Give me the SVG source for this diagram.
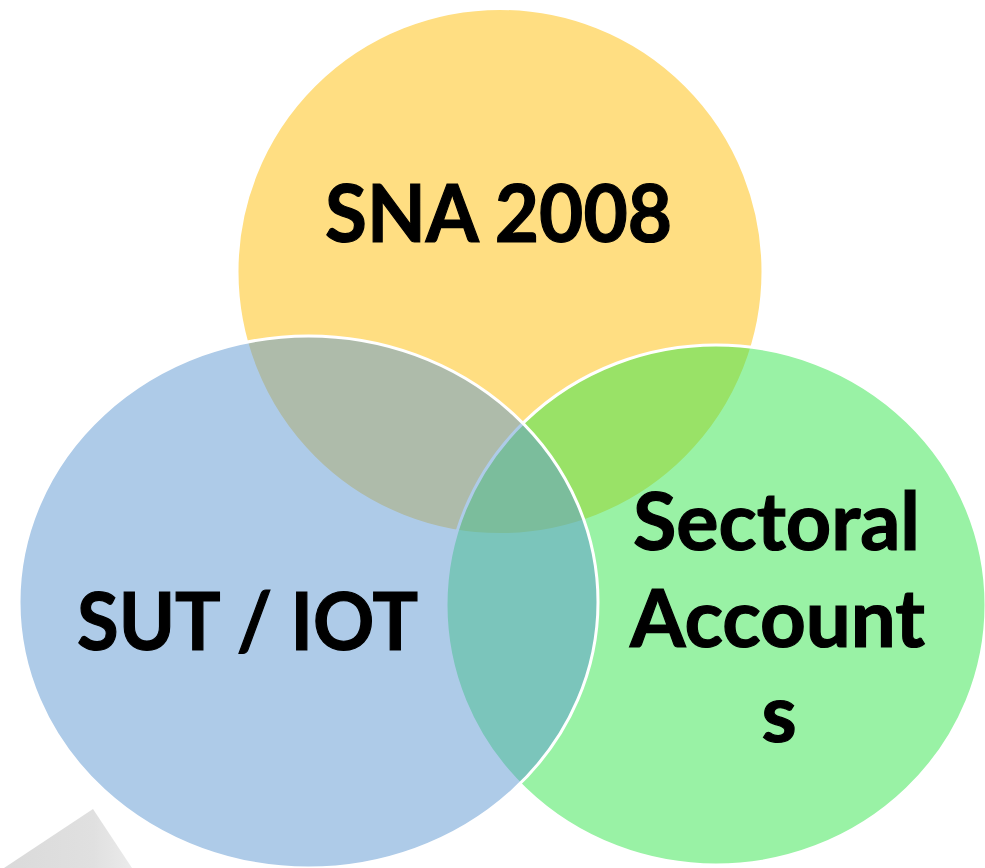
<svg xmlns="http://www.w3.org/2000/svg" width="985" height="868" viewBox="0 0 985 868">
  <defs>
    <linearGradient id="paper" x1="0" y1="0" x2="1" y2="0">
      <stop offset="0" stop-color="#dadada"/>
      <stop offset="0.7" stop-color="#e0e0e0"/>
      <stop offset="1" stop-color="#ebebeb"/>
    </linearGradient>
  </defs>
  <style>
    .circle { stroke: #ffffff; stroke-width: 3; }
    .label { font-family: Lato, "Open Sans", "Liberation Sans", sans-serif; font-weight: bold; font-size: 80px; fill: #000000; stroke: #000000; stroke-width: 1.2; text-anchor: middle; }
  </style>
  <rect x="0" y="0" width="985" height="868" fill="#ffffff"/>
  <polygon points="93,809 132,868 4,868" fill="url(#paper)"/>
  <g id="node-sna">
    <circle class="circle" cx="500" cy="271.5" r="263" fill="#FFDE82"/>
  </g>
  <g id="node-sectoral">
    <ellipse class="circle" cx="716" cy="605" rx="270" ry="260" fill="#33E54B" fill-opacity="0.5"/>
  </g>
  <g id="node-sut">
    <ellipse class="circle" cx="308.5" cy="602" rx="289.5" ry="266" fill="#5D97D1" fill-opacity="0.5"/>
  </g>
  <g id="connectors"></g>
  <g id="labels">
    <text class="label" x="498.5" y="242" textLength="347" lengthAdjust="spacingAndGlyphs">SNA 2008</text>
    <text class="label" x="247.5" y="650" textLength="341" lengthAdjust="spacingAndGlyphs">SUT / IOT</text>
    <text class="label" x="776.5" y="550" textLength="287" lengthAdjust="spacingAndGlyphs">Sectoral</text>
    <text class="label" x="777.5" y="647" textLength="295" lengthAdjust="spacingAndGlyphs">Account</text>
    <text class="label" x="779" y="742">s</text>
  </g>
</svg>
